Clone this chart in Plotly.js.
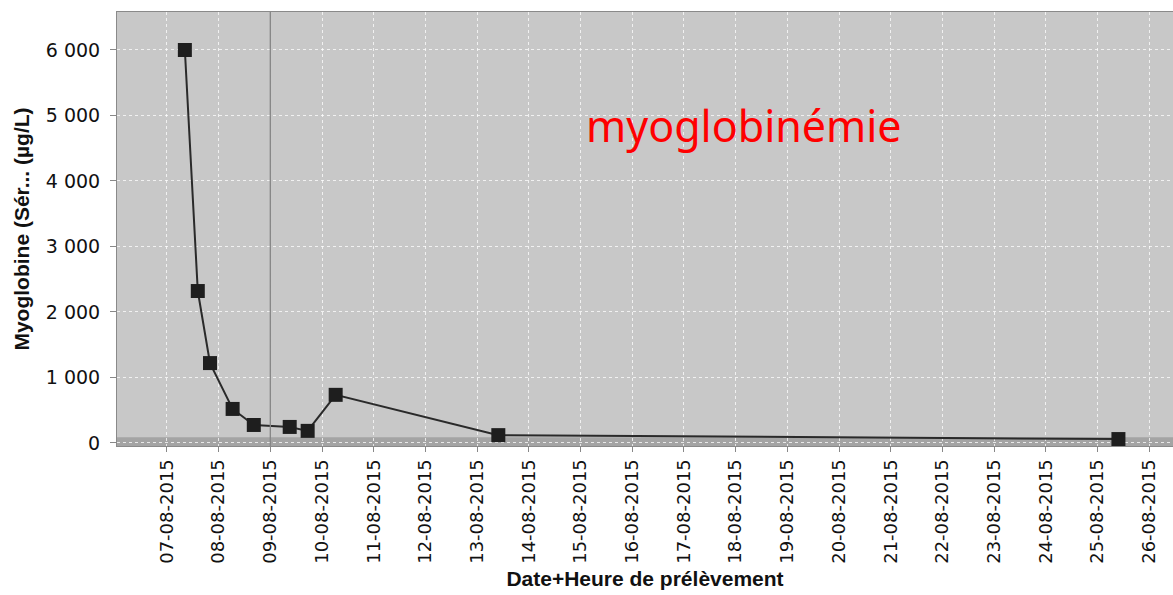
<!DOCTYPE html>
<html>
<head>
<meta charset="utf-8">
<script src="https://cdn.plot.ly/plotly-3.0.1.min.js"></script>
<style>html,body{margin:0;padding:0;background:#fff;}#chart{width:1173px;height:595px;}</style>
</head>
<body>
<div id="chart"></div>
<script>
// Sample times (Date+Heure de prélèvement) and myoglobin values (µg/L)
const sampleTimes = [
  '2015-08-07 08:20', '2015-08-07 14:20', '2015-08-07 20:00',
  '2015-08-08 06:30', '2015-08-08 16:20', '2015-08-09 09:00',
  '2015-08-09 17:20', '2015-08-10 06:20', '2015-08-13 09:50',
  '2015-08-25 09:40'
];
const myoglobin = [6000, 2320, 1220, 520, 275, 245, 185, 735, 120, 60];

// X tick dates and their labels
const tickDates = [
  '2015-08-07','2015-08-08','2015-08-09','2015-08-10','2015-08-11',
  '2015-08-12','2015-08-13','2015-08-14','2015-08-15','2015-08-16',
  '2015-08-17','2015-08-18','2015-08-19','2015-08-20','2015-08-21',
  '2015-08-22','2015-08-23','2015-08-24','2015-08-25','2015-08-26'
];
const tickLabels = tickDates.map(d => d.slice(8,10) + '-' + d.slice(5,7) + '-' + d.slice(0,4));

// Y ticks
const yTickVals = [0, 1000, 2000, 3000, 4000, 5000, 6000];
const yTickText = ['0', '1 000', '2 000', '3 000', '4 000', '5 000', '6 000'];

const refLineDate = '2015-08-09';
const chartNote = 'myoglobinémie';

const trace = {
  x: sampleTimes,
  y: myoglobin,
  type: 'scatter',
  mode: 'lines+markers',
  line: {color: '#2a2a2a', width: 2},
  marker: {symbol: 'square', size: 14, color: '#1e1e1e'},
  hoverinfo: 'x+y'
};

const layout = {
  width: 1173,
  height: 595,
  margin: {l: 117, r: 0, t: 12, b: 149},
  paper_bgcolor: '#ffffff',
  plot_bgcolor: '#c8c8c8',
  showlegend: false,
  xaxis: {
    type: 'date',
    range: ['2015-08-06 00:50', '2015-08-26 11:00'],
    tickvals: tickDates,
    ticktext: tickLabels,
    tickangle: -90,
    ticks: 'outside',
    ticklen: 5,
    tickcolor: '#888',
    tickfont: {family: 'DejaVu Sans', size: 18, color: '#111'},
    showgrid: true,
    gridcolor: 'rgba(255,255,255,0.75)',
    griddash: 'dot',
    gridwidth: 1,
    showline: true,
    linecolor: '#8a8a8a',
    linewidth: 1,
    mirror: true,
    zeroline: false,
    automargin: false,
    title: {
      text: 'Date+Heure de prélèvement',
      font: {family: 'Liberation Sans', size: 21, color: '#111', weight: 'bold'},
      standoff: 8
    }
  },
  yaxis: {
    range: [-46, 6580],
    tickvals: yTickVals,
    ticktext: yTickText,
    ticks: 'outside',
    ticklen: 6,
    tickcolor: '#888',
    ticklabelstandoff: 6,
    tickfont: {family: 'DejaVu Sans', size: 19, color: '#111'},
    showgrid: true,
    gridcolor: 'rgba(255,255,255,0.75)',
    griddash: 'dot',
    gridwidth: 1,
    showline: true,
    linecolor: '#8a8a8a',
    linewidth: 1,
    mirror: true,
    zeroline: false,
    automargin: false,
    title: {
      text: 'Myoglobine (Sér... (µg/L)',
      font: {family: 'Liberation Sans', size: 21, color: '#111', weight: 'bold'},
      standoff: 10
    }
  },
  shapes: [
    {type: 'line', xref: 'x', yref: 'paper', x0: refLineDate, x1: refLineDate, y0: 0, y1: 1,
     line: {color: '#858585', width: 1.3}, layer: 'above'},
    {type: 'rect', xref: 'paper', yref: 'paper', x0: 0, x1: 1, y0: 0, y1: 0.02,
     fillcolor: 'rgba(110,110,110,0.4)', line: {width: 0}, layer: 'between'}
  ],
  annotations: [
    {text: chartNote, xref: 'paper', yref: 'paper', x: 0.594, y: 0.738,
     xanchor: 'center', yanchor: 'middle', showarrow: false,
     font: {family: 'Noto Sans', size: 43, color: '#ff0000'}}
  ]
};

Plotly.newPlot('chart', [trace], layout, {displayModeBar: false, staticPlot: true});
</script>
</body>
</html>
